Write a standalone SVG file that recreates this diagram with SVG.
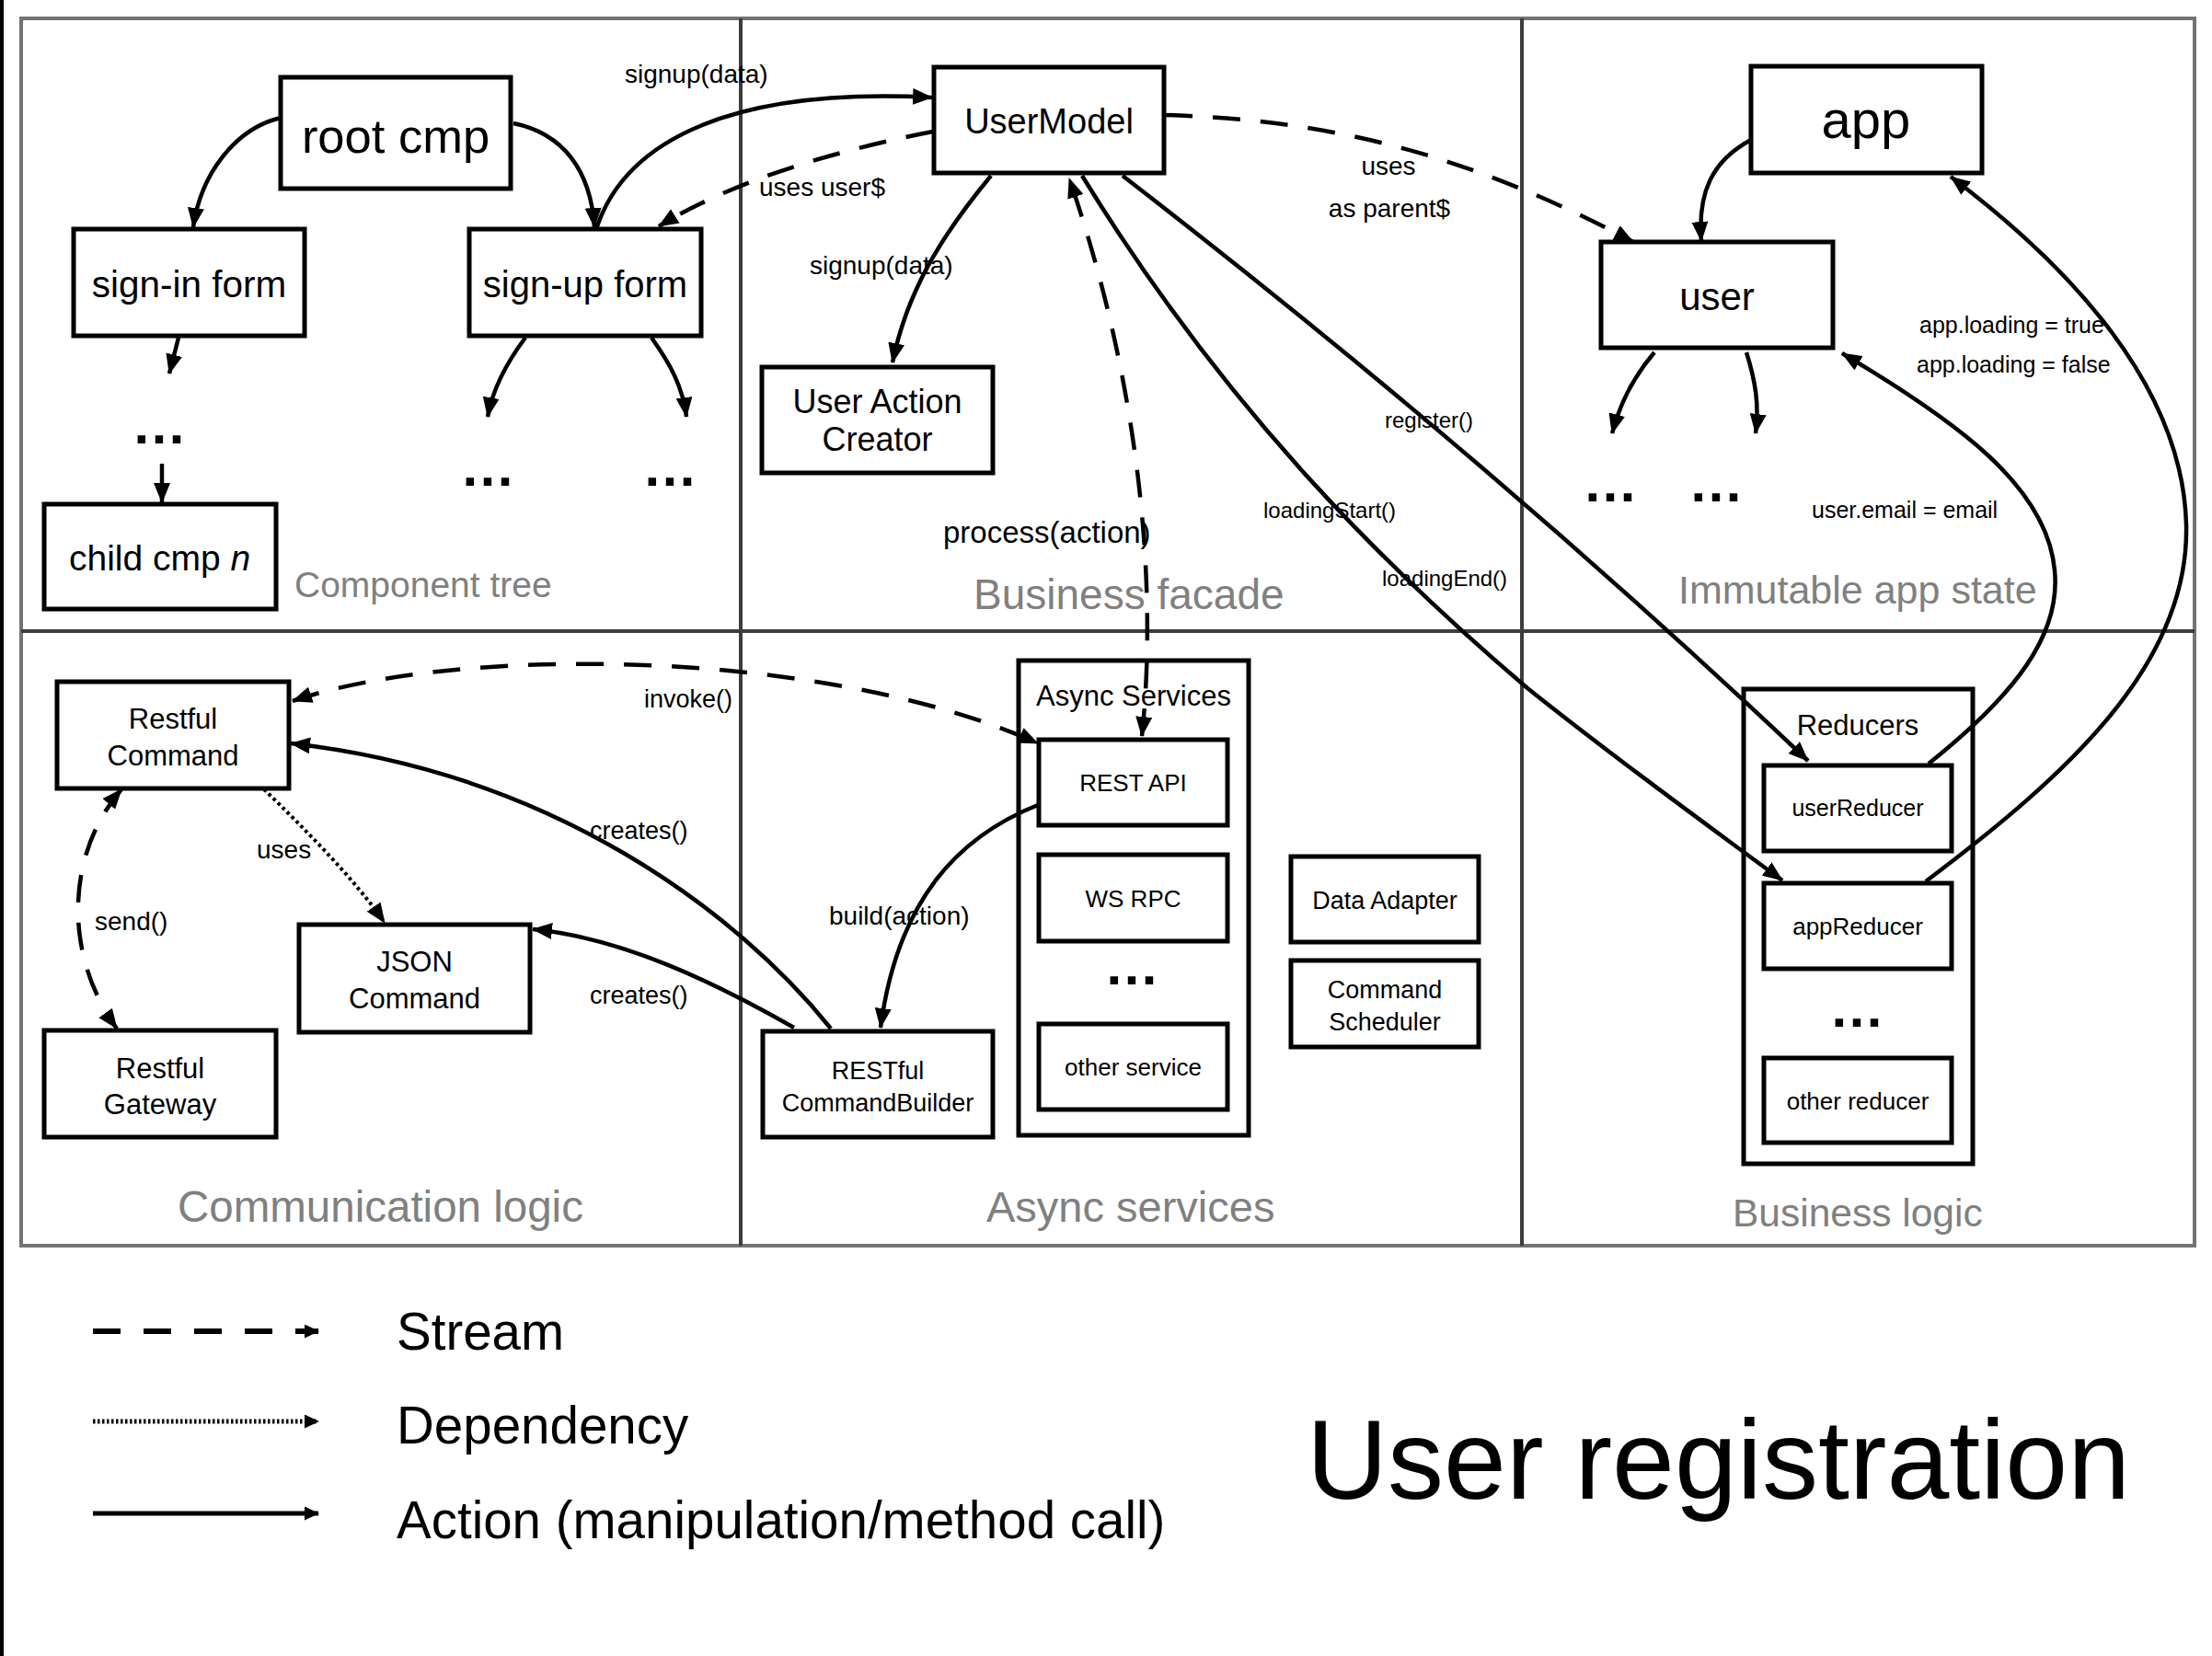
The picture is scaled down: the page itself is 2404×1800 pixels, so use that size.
<svg xmlns="http://www.w3.org/2000/svg" width="2404" height="1800" viewBox="0 0 2404 1800">
<defs>
<marker id="ah" viewBox="0 0 22 18" refX="21" refY="9" markerWidth="22" markerHeight="18" orient="auto-start-reverse" markerUnits="userSpaceOnUse"><path d="M0,0 L22,9 L0,18 z" fill="#000"/></marker>
<marker id="lh" viewBox="0 0 16 15" refX="15" refY="7.5" markerWidth="16" markerHeight="15" orient="auto" markerUnits="userSpaceOnUse"><path d="M0,0 L16,7.5 L0,15 z" fill="#000"/></marker>
<style>
text{font-family:"Liberation Sans",Arial,sans-serif;fill:#000}
.box{fill:#fff;stroke:#000;stroke-width:5}
.c{text-anchor:middle}
.sec{fill:#808080}
.dots{font-weight:bold;font-size:60px;text-anchor:middle}
.act{fill:none;stroke:#000;stroke-width:4.5;marker-end:url(#ah)}
.str{fill:none;stroke:#000;stroke-width:4.5;stroke-dasharray:30 22;marker-end:url(#ah)}
.bi{marker-start:url(#ah)}
.dep{fill:none;stroke:#000;stroke-width:4;stroke-dasharray:3.5 3.5;marker-end:url(#ah)}
.lbl{font-size:28px}
.sm{font-size:24px}
</style>
</defs>
<rect x="0" y="0" width="2404" height="1800" fill="#fff"/>
<rect x="0" y="0" width="4" height="1800" fill="#000"/>
<g id="frame">
<rect x="23" y="20" width="2362" height="1334" fill="none" stroke="#737373" stroke-width="4"/>
<line x1="805" y1="20" x2="805" y2="1354" stroke="#3d3d3d" stroke-width="4"/>
<line x1="1654" y1="20" x2="1654" y2="1354" stroke="#3d3d3d" stroke-width="4"/>
<line x1="23" y1="686" x2="2385" y2="686" stroke="#3d3d3d" stroke-width="4"/>
<text class="sec" x="320" y="649" font-size="39">Component tree</text>
<text class="sec" x="1058" y="662" font-size="46">Business facade</text>
<text class="sec" x="1824" y="656" font-size="43">Immutable app state</text>
<text class="sec" x="193" y="1328" font-size="47.5">Communication logic</text>
<text class="sec" x="1072" y="1328" font-size="47">Async services</text>
<text class="sec" x="1883" y="1333" font-size="42.5">Business logic</text>
</g>
<g id="root-cmp"><rect class="box" x="305" y="84" width="250" height="121"/><text class="c" x="430" y="166" font-size="52.5">root cmp</text></g>
<g id="sign-in-form"><rect class="box" x="80" y="249" width="251" height="116"/><text class="c" x="205.5" y="323" font-size="40.5">sign-in form</text></g>
<g id="sign-up-form"><rect class="box" x="510" y="249" width="252" height="116"/><text class="c" x="636" y="323" font-size="40">sign-up form</text></g>
<g id="dots-1"><text class="dots" x="173" y="482">…</text></g>
<g id="dots-2"><text class="dots" x="530" y="528">…</text></g>
<g id="dots-3"><text class="dots" x="728" y="528">…</text></g>
<g id="child-cmp"><rect class="box" x="48" y="548" width="252" height="114"/><text x="75" y="620" font-size="39">child cmp <tspan font-style="italic">n</tspan></text></g>
<g id="user-model"><rect class="box" x="1015" y="73" width="250" height="115"/><text class="c" x="1140" y="145" font-size="38">UserModel</text></g>
<g id="user-action-creator"><rect class="box" x="828" y="399" width="251" height="115"/><text class="c" x="953.5" y="449" font-size="36">User Action</text><text class="c" x="953.5" y="490" font-size="36">Creator</text></g>
<g id="app"><rect class="box" x="1903" y="72" width="251" height="116"/><text class="c" x="2028" y="150" font-size="58">app</text></g>
<g id="user"><rect class="box" x="1740" y="263" width="252" height="115"/><text class="c" x="1866" y="337" font-size="42">user</text></g>
<g id="dots-4"><text class="dots" x="1750" y="545">…</text></g>
<g id="dots-5"><text class="dots" x="1865" y="545">…</text></g>
<g id="restful-command"><rect class="box" x="62" y="741" width="252" height="116"/><text class="c" x="188" y="792" font-size="31">Restful</text><text class="c" x="188" y="832" font-size="31">Command</text></g>
<g id="json-command"><rect class="box" x="325" y="1005" width="251" height="117"/><text class="c" x="450.5" y="1056" font-size="31">JSON</text><text class="c" x="450.5" y="1096" font-size="31">Command</text></g>
<g id="restful-gateway"><rect class="box" x="48" y="1120" width="252" height="116"/><text class="c" x="174" y="1172" font-size="31">Restful</text><text class="c" x="174" y="1211" font-size="31">Gateway</text></g>
<g id="command-builder"><rect class="box" x="829" y="1121" width="250" height="115"/><text class="c" x="954" y="1173" font-size="27">RESTful</text><text class="c" x="954" y="1208" font-size="27">CommandBuilder</text></g>
<g id="async-services"><rect class="box" x="1107" y="718" width="250" height="516"/><text class="c" x="1232" y="767" font-size="31">Async Services</text></g>
<g id="rest-api"><rect class="box" x="1129" y="804" width="205" height="93"/><text class="c" x="1231.5" y="860" font-size="26">REST API</text></g>
<g id="ws-rpc"><rect class="box" x="1129" y="929" width="205" height="94"/><text class="c" x="1231.5" y="986" font-size="26">WS RPC</text></g>
<g id="dots-6"><text class="dots" x="1230" y="1070">…</text></g>
<g id="other-service"><rect class="box" x="1129" y="1113" width="205" height="93"/><text class="c" x="1231.5" y="1169" font-size="26">other service</text></g>
<g id="data-adapter"><rect class="box" x="1403" y="931" width="204" height="93"/><text class="c" x="1505" y="988" font-size="27">Data Adapter</text></g>
<g id="command-scheduler"><rect class="box" x="1403" y="1044" width="204" height="94"/><text class="c" x="1505" y="1085" font-size="27">Command</text><text class="c" x="1505" y="1120" font-size="27">Scheduler</text></g>
<g id="reducers"><rect class="box" x="1895" y="749" width="249" height="516"/><text class="c" x="2019" y="799" font-size="31">Reducers</text></g>
<g id="user-reducer"><rect class="box" x="1917" y="832" width="204" height="93"/><text class="c" x="2019" y="887" font-size="25">userReducer</text></g>
<g id="app-reducer"><rect class="box" x="1917" y="960" width="204" height="93"/><text class="c" x="2019" y="1016" font-size="26">appReducer</text></g>
<g id="dots-7"><text class="dots" x="2018" y="1116">…</text></g>
<g id="other-reducer"><rect class="box" x="1917" y="1150" width="204" height="92"/><text class="c" x="2019" y="1206" font-size="26">other reducer</text></g>
<g id="connectors">
<path class="act" d="M305,128 C255,140 218,190 210,247"/>
<path class="act" d="M558,134 C612,145 642,185 646,247"/>
<path class="act" d="M194,367 L184,406"/>
<path class="act" d="M176,504 L176,546"/>
<path class="act" d="M571,367 C550,395 535,425 530,453"/>
<path class="act" d="M708,367 C728,395 742,420 746,453"/>
<path class="act" d="M648,249 C680,150 800,95 1013,106"/>
<path class="str" d="M1014,143 C900,165 790,200 716,246"/>
<path class="act" d="M1077,191 C1020,260 985,320 970,394"/>
<path class="str bi" d="M1241,800 C1258,640 1240,420 1162,194"/>
<path class="str" d="M1266,125 C1450,130 1600,170 1775,263"/>
<path class="act" d="M1220,191 Q1620,500 1965,827"/>
<path class="act" d="M1176,191 C1335,450 1510,620 1660,748 C1765,832 1860,900 1937,957"/>
<path class="act" d="M1903,152 C1860,175 1845,210 1849,262"/>
<path class="act" d="M1798,383 C1775,410 1760,440 1752,471"/>
<path class="act" d="M1898,383 C1908,415 1912,440 1908,471"/>
<path class="act" d="M2096,830 C2190,755 2240,690 2233,620 C2225,530 2130,460 2002,384"/>
<path class="act" d="M2093,958 C2250,840 2380,720 2376,570 C2372,420 2250,290 2120,192"/>
<path class="str bi" d="M318,762 C500,700 900,705 1128,808"/>
<path class="act" d="M903,1118 C800,990 600,840 316,808"/>
<path class="act" d="M863,1117 C780,1070 680,1020 579,1010"/>
<path class="act" d="M1128,875 C1040,910 975,980 957,1117"/>
<path class="dep" d="M287,858 C330,900 385,955 418,1003"/>
<path class="str bi" d="M132,858 C70,930 70,1040 127,1118"/>
<text class="lbl" x="679" y="90">signup(data)</text>
<text class="lbl" x="825" y="213">uses user$</text>
<text class="lbl" x="880" y="298">signup(data)</text>
<text x="1025" y="590" font-size="33">process(action)</text>
<text class="lbl c" x="1509" y="190">uses</text>
<text class="lbl c" x="1510" y="236">as parent$</text>
<text class="sm" x="1505" y="465">register()</text>
<text class="sm" x="1373" y="563">loadingStart()</text>
<text class="sm" x="1502" y="637">loadingEnd()</text>
<text x="2086" y="362" font-size="25">app.loading = true</text>
<text x="2083" y="405" font-size="25">app.loading = false</text>
<text x="1969" y="563" font-size="25">user.email = email</text>
<text x="700" y="769" font-size="27">invoke()</text>
<text x="641" y="912" font-size="27">creates()</text>
<text x="641" y="1091" font-size="27">creates()</text>
<text class="lbl" x="279" y="933">uses</text>
<text class="lbl" x="103" y="1011">send()</text>
<text class="lbl" x="901" y="1005">build(action)</text>
</g>
<g id="legend">
<line x1="101" y1="1447" x2="346" y2="1447" stroke="#000" stroke-width="6" stroke-dasharray="30 25" marker-end="url(#lh)"/>
<line x1="101" y1="1545" x2="346" y2="1545" stroke="#000" stroke-width="5" stroke-dasharray="2.5 2.5" marker-end="url(#lh)"/>
<line x1="101" y1="1645" x2="346" y2="1645" stroke="#000" stroke-width="5" marker-end="url(#lh)"/>
<text x="431" y="1467" font-size="56.5">Stream</text>
<text x="431" y="1569" font-size="56.5">Dependency</text>
<text x="431" y="1672" font-size="56.5">Action (manipulation/method call)</text>
</g>
<text id="title" x="1420" y="1629" font-size="122">User registration</text>
</svg>
